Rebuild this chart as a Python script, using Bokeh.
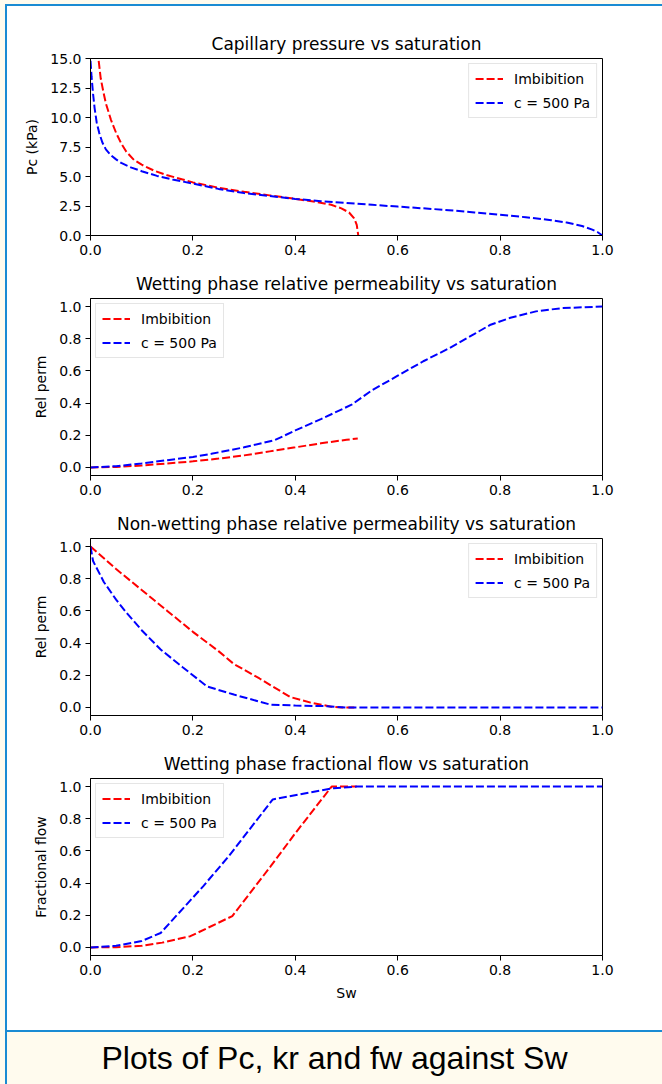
from bokeh.plotting import figure
from bokeh.layouts import column, row
from bokeh.models import Div, FixedTicker, PrintfTickFormatter, Range1d
from bokeh.embed import file_html
from bokeh.resources import INLINE

# ---- capillary pressure Pc (kPa) against wetting saturation Sw ----
imb_pc_sw = [0.016, 0.02, 0.025, 0.03, 0.04, 0.05, 0.06, 0.07, 0.085, 0.10, 0.124, 0.15,
             0.18, 0.20, 0.25, 0.30, 0.35, 0.40, 0.44, 0.47, 0.49, 0.505, 0.515, 0.52, 0.523]
imb_pc = [14.8, 13.3, 12.2, 11.2, 9.8, 8.7, 7.8, 7.1, 6.4, 6.0, 5.5, 5.1,
          4.75, 4.5, 4.05, 3.7, 3.4, 3.1, 2.85, 2.6, 2.3, 1.95, 1.45, 0.9, 0.0]

c500_pc_sw = [0.0, 0.002, 0.005, 0.008, 0.012, 0.017, 0.023, 0.03, 0.04, 0.05, 0.06, 0.08,
              0.10, 0.13, 0.16, 0.20, 0.25, 0.30, 0.35, 0.40, 0.45, 0.50, 0.55, 0.60,
              0.65, 0.70, 0.75, 0.80, 0.85, 0.90, 0.93, 0.96, 0.98, 0.99, 1.0]
c500_pc = [14.8, 13.5, 12.0, 10.8, 9.6, 8.7, 7.9, 7.3, 6.8, 6.45, 6.15, 5.75,
           5.45, 5.05, 4.75, 4.4, 3.95, 3.6, 3.35, 3.1, 2.9, 2.75, 2.6, 2.45,
           2.3, 2.15, 1.95, 1.75, 1.55, 1.3, 1.1, 0.8, 0.5, 0.3, 0.0]

# ---- wetting phase relative permeability ----
imb_krw_sw = [0.0, 0.05, 0.10, 0.15, 0.20, 0.25, 0.30, 0.35, 0.40, 0.45, 0.50, 0.522]
imb_krw = [0.0, 0.003, 0.012, 0.025, 0.038, 0.055, 0.075, 0.10, 0.125, 0.15, 0.172, 0.18]

c500_krw_sw = [0.0, 0.05, 0.10, 0.15, 0.20, 0.236, 0.30, 0.36, 0.40, 0.45, 0.51, 0.55,
               0.60, 0.65, 0.70, 0.75, 0.78, 0.82, 0.87, 0.92, 1.0]
c500_krw = [0.0, 0.008, 0.025, 0.045, 0.065, 0.085, 0.125, 0.17, 0.23, 0.30, 0.39, 0.48,
            0.57, 0.66, 0.74, 0.83, 0.885, 0.93, 0.97, 0.99, 1.0]

# ---- non-wetting phase relative permeability ----
imb_krn_sw = [0.0, 0.05, 0.10, 0.15, 0.20, 0.25, 0.28, 0.33, 0.39, 0.43, 0.47, 0.49, 0.52]
imb_krn = [1.0, 0.86, 0.73, 0.60, 0.47, 0.35, 0.27, 0.18, 0.065, 0.03, 0.005, 0.0, 0.0]

c500_krn_sw = [0.0, 0.005, 0.026, 0.05, 0.07, 0.10, 0.137, 0.18, 0.228, 0.28, 0.352,
               0.40, 0.46, 0.50, 1.0]
c500_krn = [1.0, 0.91, 0.78, 0.67, 0.59, 0.48, 0.36, 0.25, 0.13, 0.08, 0.017,
            0.012, 0.008, 0.0, 0.0]

# ---- wetting phase fractional flow ----
imb_fw_sw = [0.0, 0.05, 0.10, 0.14, 0.195, 0.277, 0.352, 0.40, 0.471, 0.52]
imb_fw = [0.0, 0.002, 0.01, 0.03, 0.07, 0.195, 0.505, 0.71, 1.0, 1.0]

c500_fw_sw = [0.0, 0.05, 0.10, 0.137, 0.22, 0.27, 0.356, 0.475, 0.52, 1.0]
c500_fw = [0.0, 0.01, 0.04, 0.09, 0.38, 0.567, 0.92, 0.99, 1.0, 1.0]

x_ticks = [0.0, 0.2, 0.4, 0.6, 0.8, 1.0]
pc_ticks = [0.0, 2.5, 5.0, 7.5, 10.0, 12.5, 15.0]
unit_ticks = [0.0, 0.2, 0.4, 0.6, 0.8, 1.0]

series_names = ["Imbibition", "c = 500 Pa"]

FONT = "DejaVu Sans"
BORDER_BLUE = "#1a8bd3"
CREAM = "#fffbee"
NO_MARGIN = (0, 0, 0, 0)


def panel(title, ylabel, y_range, yticks, curves, legend_loc,
          top_border, bottom_border, xlabel=None):
    p = figure(frame_width=512, frame_height=177,
               x_range=Range1d(0, 1), y_range=Range1d(*y_range),
               min_border_left=83, min_border_right=60,
               min_border_top=top_border, min_border_bottom=bottom_border,
               margin=NO_MARGIN,
               output_backend="svg", toolbar_location=None, title=title)
    p.background_fill_color = "white"
    p.border_fill_color = "white"
    p.outline_line_color = "black"
    p.outline_line_width = 1
    p.grid.visible = False

    p.title.text_font = FONT
    p.title.text_font_size = "17px"
    p.title.text_font_style = "normal"
    p.title.text_color = "black"
    p.title.align = "center"
    p.title.standoff = 9

    p.xaxis.ticker = FixedTicker(ticks=x_ticks)
    p.yaxis.ticker = FixedTicker(ticks=yticks)
    p.xaxis.formatter = PrintfTickFormatter(format="%.1f")
    p.yaxis.formatter = PrintfTickFormatter(format="%.1f")
    for ax in (p.xaxis[0], p.yaxis[0]):
        ax.axis_line_color = "black"
        ax.axis_line_width = 1
        ax.major_tick_out = 5
        ax.major_tick_in = 0
        ax.major_tick_line_color = "black"
        ax.minor_tick_out = 0
        ax.minor_tick_in = 0
        ax.major_label_text_font = FONT
        ax.major_label_text_font_size = "14px"
        ax.major_label_text_color = "black"
        ax.major_label_standoff = 4
        ax.axis_label_text_font = FONT
        ax.axis_label_text_font_size = "14px"
        ax.axis_label_text_font_style = "normal"
        ax.axis_label_text_color = "black"
        ax.axis_label_standoff = 7
    p.yaxis.axis_label = ylabel
    if xlabel:
        p.xaxis.axis_label = xlabel

    for (xs, ys), color, name in zip(curves, ["red", "blue"], series_names):
        p.line(xs, ys, line_color=color, line_width=2, line_dash="8 3",
               legend_label=name)

    lg = p.legend[0]
    lg.location = legend_loc
    lg.border_line_color = "#cccccc"
    lg.border_line_width = 1
    lg.background_fill_color = "white"
    lg.background_fill_alpha = 0.8
    lg.label_text_font = FONT
    lg.label_text_font_size = "14px"
    lg.label_text_color = "black"
    lg.glyph_width = 28
    lg.glyph_height = 17
    lg.label_height = 17
    lg.label_standoff = 11
    lg.spacing = 7
    lg.padding = 6
    lg.margin = 5
    return p


def rule(w, h):
    return Div(text="", width=w, height=h, margin=NO_MARGIN,
               styles={"background-color": BORDER_BLUE})


p_pc = panel("Capillary pressure vs saturation", "Pc (kPa)", (0, 15), pc_ticks,
             [(imb_pc_sw, imb_pc), (c500_pc_sw, c500_pc)], "top_right", 52, 32)
p_krw = panel("Wetting phase relative permeability vs saturation", "Rel perm",
              (-0.05, 1.05), unit_ticks,
              [(imb_krw_sw, imb_krw), (c500_krw_sw, c500_krw)], "top_left", 31, 32)
p_krn = panel("Non-wetting phase relative permeability vs saturation", "Rel perm",
              (-0.05, 1.05), unit_ticks,
              [(imb_krn_sw, imb_krn), (c500_krn_sw, c500_krn)], "top_right", 31, 32)
p_fw = panel("Wetting phase fractional flow vs saturation", "Fractional flow",
             (-0.05, 1.05), unit_ticks,
             [(imb_fw_sw, imb_fw), (c500_fw_sw, c500_fw)], "top_left", 31, 75,
             xlabel="Sw")

stack = column(p_pc, p_krw, p_krn, p_fw, margin=NO_MARGIN,
               styles={"background-color": "white"})
charts = column(rule(657, 2), row(rule(2, 1024), stack, margin=NO_MARGIN),
                margin=(4, 0, 0, 5))

caption = Div(text="Plots of Pc, kr and fw against Sw", width=655, height=52,
              margin=NO_MARGIN,
              styles={"background-color": CREAM,
                      "font-family": "'Liberation Sans', Arial, sans-serif",
                      "font-size": "32px",
                      "color": "black",
                      "text-align": "center",
                      "line-height": "52px"})
caption_box = column(rule(657, 2), row(rule(2, 52), caption, margin=NO_MARGIN),
                     margin=(0, 0, 0, 5))

page = column(charts, caption_box, margin=NO_MARGIN,
              styles={"background-color": CREAM})

open("out.html", "w").write(file_html(page, INLINE))
